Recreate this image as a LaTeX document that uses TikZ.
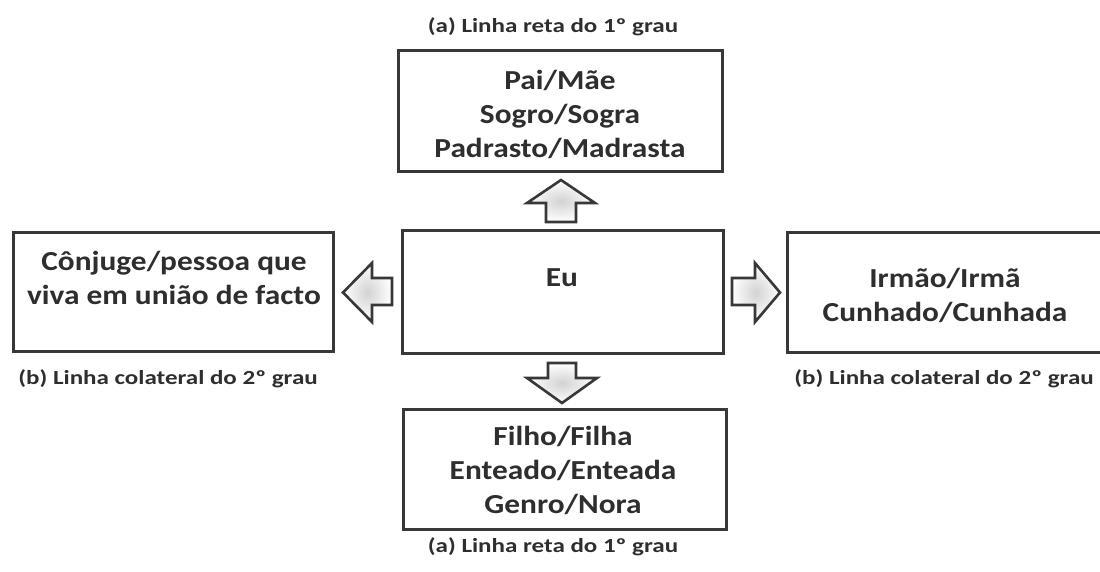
\documentclass[tikz,border=0pt]{standalone}
\usepackage{fontspec}
\setmainfont{Carlito}[FakeStretch=1.25]
\newfontfamily\boxfont{Carlito}[FakeStretch=1.14]
\definecolor{linec}{HTML}{383838}
\definecolor{textc}{HTML}{2E2E2E}
\begin{document}
\begin{tikzpicture}[x=1pt,y=-1pt,
  box/.style={draw=linec, line width=3pt, rectangle, inner sep=0pt, minimum width=#1},
  box/.default=322pt,
  boxtxt/.style={text=textc, align=center, inner sep=0pt, font=\boxfont\fontsize{27.5}{34}\selectfont\bfseries},
  lbl/.style={text=textc, inner sep=0pt, font=\fontsize{20}{24}\selectfont\bfseries},
  arr/.style={draw=linec, line width=2.6pt, line join=miter, shade, inner color=gray!35, outer color=white}
]
\clip (0,0) rectangle (1100,572);
\fill[white] (0,0) rectangle (1100,572);

% boxes
\node[box=324pt, minimum height=121pt] (top) at (560,111.5) {};
\node[box=321pt, minimum height=123pt] (eu) at (562.5,291.5) {};
\node[box=320pt, minimum height=119pt] (left) at (173,291.5) {};
\node[box=320pt, minimum height=120pt] (right) at (947,292) {};
\node[box=323pt, minimum height=120pt] (bottom) at (564.5,469) {};

% texts
\node[boxtxt] (toptxt) at (560,114) {Pai/Mãe\\Sogro/Sogra\\Padrasto/Madrasta};
\node[boxtxt] (eutxt) at (562,278) {Eu};
\node[boxtxt] (lefttxt) at (174,278) {Cônjuge/pessoa que\\viva em união de facto};
\node[boxtxt] (righttxt) at (945,295) {Irmão/Irmã\\Cunhado/Cunhada};
\node[boxtxt] (bottomtxt) at (563,470) {Filho/Filha\\Enteado/Enteada\\Genro/Nora};

% labels
\node[lbl] (ltop) at (553,27) {(a) Linha reta do 1º grau};
\node[lbl] (lbottom) at (553,547) {(a) Linha reta do 1º grau};
\node[lbl] (lleft) at (168,379) {(b) Linha colateral do 2º grau};
\node[lbl] (lright) at (944,379) {(b) Linha colateral do 2º grau};

% block arrows from Eu
\draw[arr] (546,222) -- (546,203) -- (527,203) -- (561,180) -- (595,203) -- (576,203) -- (576,222) -- cycle;
\draw[arr] (548,363) -- (576,363) -- (576,378) -- (597,378) -- (562,403) -- (527,378) -- (548,378) -- cycle;
\draw[arr] (392,278) -- (392,305) -- (372,305) -- (372,322) -- (343,292.5) -- (372,263) -- (372,278) -- cycle;
\draw[arr] (732,278) -- (755,278) -- (755,263) -- (780,292.5) -- (755,322) -- (755,305) -- (732,305) -- cycle;
\end{tikzpicture}
\end{document}
